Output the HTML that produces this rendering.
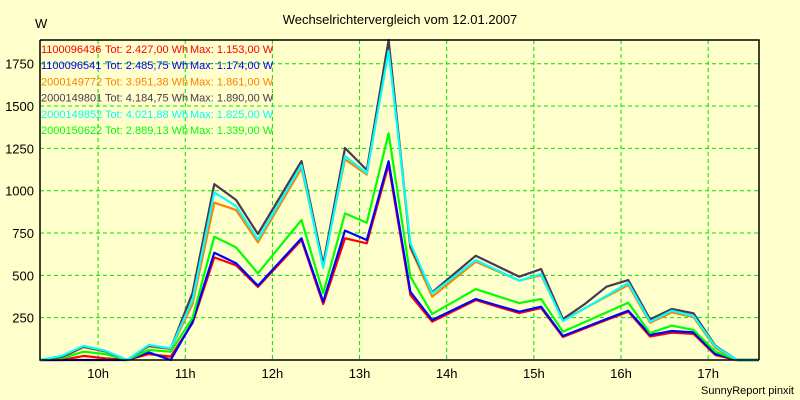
<!DOCTYPE html>
<html><head><meta charset="utf-8">
<style>
html,body{margin:0;padding:0;background:#ffffcc;}
svg{display:block;font-family:"Liberation Sans",sans-serif;}
</style></head>
<body>
<svg id="chart" width="800" height="400" viewBox="0 0 800 400">
<rect x="0" y="0" width="800" height="400" fill="#ffffcc"/>
<text x="400" y="24" font-size="13" text-anchor="middle" fill="#000">Wechselrichtervergleich vom 12.01.2007</text>
<text x="35" y="28" font-size="13" fill="#000">W</text>
<text x="794" y="394" font-size="11" text-anchor="end" fill="#000">SunnyReport pinxit</text>
<g id="grid"></g>
<g id="series"></g>
<g id="axes"></g>
<g id="legend"></g>
</svg>
<script>
const times = ["9:20","9:35","9:50","10:05","10:20","10:35","10:50","11:05","11:20","11:35","11:50","12:05","12:20","12:35","12:50","13:05","13:20","13:35","13:50","14:05","14:20","14:35","14:50","15:05","15:20","15:35","15:50","16:05","16:20","16:35","16:50","17:05","17:20","17:35"];
const red = [0,0,24,10,0,35,20,218,606,559,432,570,709,331,719,689,1153,384,226,290,354,315,277,307,136,186,236,285,138,161,154,29,0,0];
const blue = [0,0,0,0,0,45,0,225,634,571,439,579,719,344,764,709,1174,403,236,298,360,322,285,315,142,192,242,291,148,171,163,35,0,0];
const green = [0,10,49,35,0,59,49,248,728,665,512,670,827,394,866,811,1339,492,272,345,419,377,336,360,167,224,281,338,159,203,177,49,0,0];
const orange = [0,15,75,50,0,80,65,330,929,886,695,914,1132,560,1185,1095,1861,661,374,477,580,524,469,500,235,305,375,443,220,281,253,70,0,0];
const dark = [0,18,80,52,0,85,68,396,1039,945,744,960,1175,565,1252,1122,1890,669,400,508,616,554,492,537,242,330,433,472,240,301,276,83,0,0];
const cyan = [0,24,83,55,0,89,69,354,990,909,713,932,1151,543,1205,1102,1825,690,394,492,590,529,468,508,230,305,380,455,226,291,260,79,0,0];
const yTicks = [250,500,750,1000,1250,1500,1750];
const xTickLabels = ["10h","11h","12h","13h","14h","15h","16h","17h"];
const xTickHours = [10,11,12,13,14,15,16,17];
const legendIds = ["1100096436","1100096541","2000149772","2000149801","2000149852","2000150622"];
const legendTot = ["Tot: 2.427,00 Wh","Tot: 2.485,75 Wh","Tot: 3.951,38 Wh","Tot: 4.184,75 Wh","Tot: 4.021,88 Wh","Tot: 2.889,13 Wh"];
const legendMax = ["Max: 1.153,00 W","Max: 1.174,00 W","Max: 1.861,00 W","Max: 1.890,00 W","Max: 1.825,00 W","Max: 1.339,00 W"];

const NS="http://www.w3.org/2000/svg";
const L=40,R=759,T=40,B=360;
const tStart=9+20/60,tEnd=17+35/60,yMax=1890;
function toH(s){const p=s.split(":");return +p[0]+(+p[1])/60;}
function xs(h){return L+(h-tStart)/(tEnd-tStart)*(R-L);}
function ys(v){return B-v/yMax*(B-T);}
function mk(tag,attrs,parent){const e=document.createElementNS(NS,tag);for(const k in attrs)e.setAttribute(k,attrs[k]);parent.appendChild(e);return e;}

const grid=document.getElementById('grid'),axes=document.getElementById('axes'),ser=document.getElementById('series'),leg=document.getElementById('legend');
yTicks.forEach(v=>{
  const y=ys(v);
  const ln=mk('line',{x1:L,x2:R,y1:y,y2:y,stroke:'#00e000','stroke-width':1,'stroke-dasharray':'4,3'},grid);
  
  
  const t=mk('text',{x:34,y:y+5,'font-size':13,'text-anchor':'end',fill:'#000'},axes);
  t.textContent=v;
  
  
});
xTickHours.forEach((h,i)=>{
  const x=xs(h);
  const ln=mk('line',{x1:x,x2:x,y1:T,y2:B,stroke:'#00e000','stroke-width':1,'stroke-dasharray':'4,3'},grid);
  
  
  const t=mk('text',{x:x,y:378,'font-size':13,'text-anchor':'middle',fill:'#000'},axes);
  t.textContent=xTickLabels[i];
  
  
});
const frame=mk('path',{d:`M${L},${T}H${R}V${B}M${L},${T}V${B}H${R}`,fill:'none',stroke:'#000','stroke-width':1.5},axes);



const seriesList=[[red,'#ff0000','series-1100096436'],[blue,'#0000ff','series-1100096541'],[green,'#00ff00','series-2000150622'],[orange,'#ff8000','series-2000149772'],[dark,'#4a3850','series-2000149801'],[cyan,'#00ffff','series-2000149852']];
seriesList.forEach(s=>{
  const pts=s[0].map((v,i)=>xs(toH(times[i])).toFixed(1)+','+ys(v).toFixed(1)).join(' ');
  const pl=mk('polyline',{points:pts,fill:'none',stroke:s[1],'stroke-width':2.2,'stroke-linejoin':'round'},ser);
  
  
});

const legColors=['#ff0000','#0000ff','#ff8000','#4a3850','#00ffff','#00ff00'];
legendIds.forEach((id,i)=>{
  const y=53+i*16.2;
  const g=mk('g',{fill:legColors[i],'font-size':11},leg);
  
  
  const a=mk('text',{x:41,y:y},g);a.textContent=id;
  
  
  const b=mk('text',{x:105,y:y},g);b.textContent=legendTot[i];
  
  
  const c=mk('text',{x:190,y:y},g);c.textContent=legendMax[i];
  
  
});
</script>
</body></html>
